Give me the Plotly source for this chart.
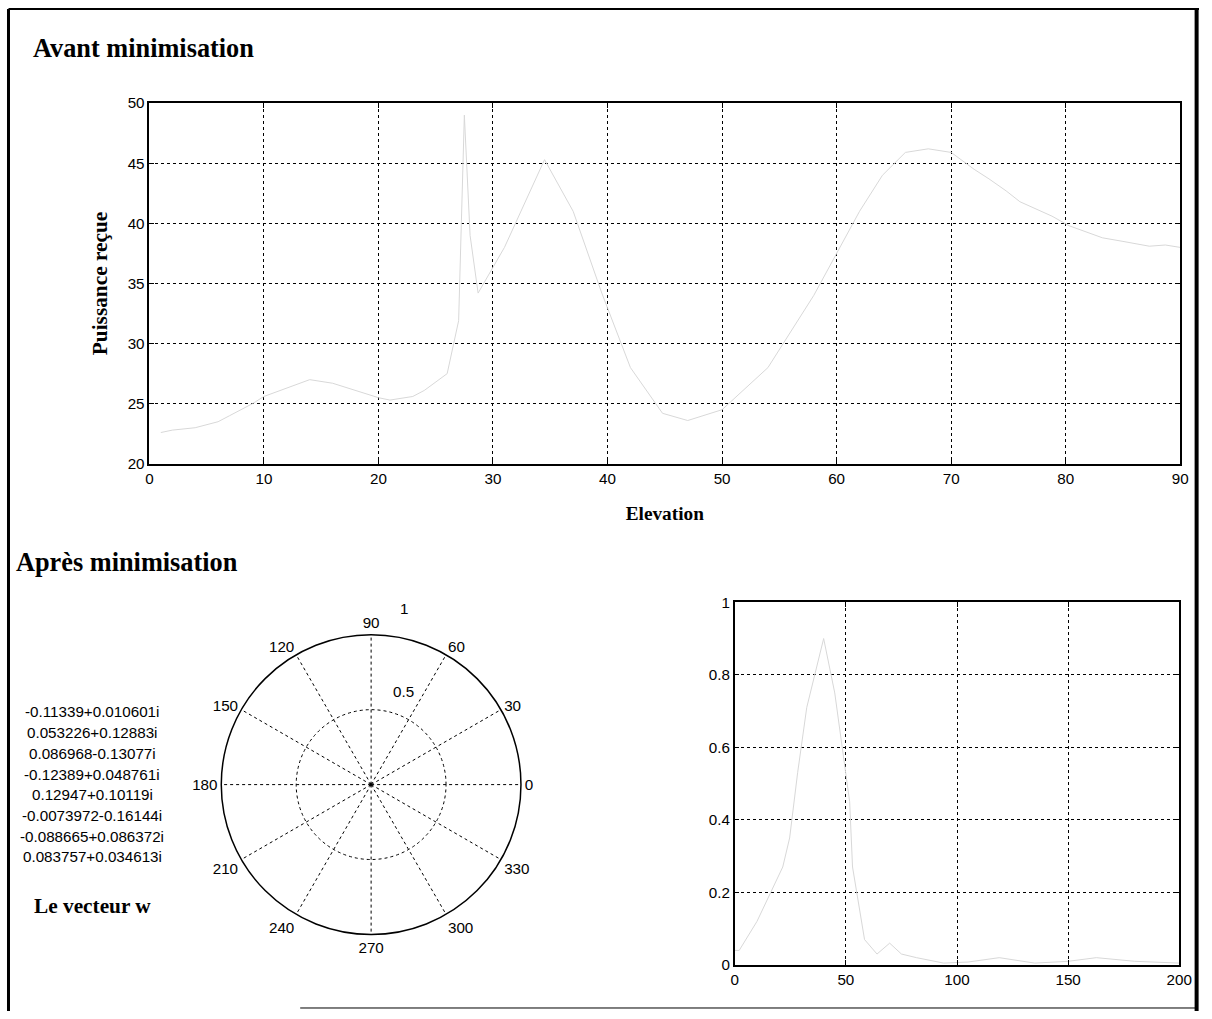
import plotly.graph_objects as go

W, H = 1212, 1019
# page placement of the figure: target pixel t -> figure pixel (t - A) / S
S = 0.987
AX, AY = 3.5, 7.5

# --- Puissance reçue avant minimisation (en fonction de l'élévation) ---
elevation = [1, 2, 4, 6, 7, 9, 10, 12, 14, 16, 18, 20, 21, 23, 24, 26, 27,
             27.5, 28, 28.7, 31, 34.5, 37, 39.5, 42, 44.8, 47, 50, 54, 58,
             62, 64, 66, 68, 70, 72, 73.3, 74.8, 76, 78.8, 80.3, 82, 83.2,
             85, 87.3, 88.7, 90]
puissance = [22.6, 22.8, 23.0, 23.5, 24.0, 25.0, 25.6, 26.3, 27.0, 26.7,
             26.1, 25.5, 25.3, 25.6, 26.1, 27.5, 31.9, 49.0, 39.0, 34.2,
             38.0, 45.3, 41.0, 34.2, 28.0, 24.2, 23.6, 24.5, 28.0, 34.0,
             41.0, 44.0, 45.9, 46.2, 45.9, 44.5, 43.7, 42.7, 41.8, 40.6,
             39.8, 39.2, 38.8, 38.5, 38.1, 38.2, 38.0]
x_ticks_top = [0, 10, 20, 30, 40, 50, 60, 70, 80, 90]
y_ticks_top = [20, 25, 30, 35, 40, 45, 50]

# --- Diagramme après minimisation ---
indice = [0, 2, 10, 21.6, 24.7, 28.3, 32.4, 40, 45, 51.7, 53, 58.4, 64,
          69.7, 75, 81.8, 94, 105, 119, 135, 150, 162.7, 180, 200]
amplitude = [0.04, 0.04, 0.12, 0.27, 0.35, 0.53, 0.71, 0.9, 0.75, 0.45,
             0.27, 0.07, 0.03, 0.06, 0.03, 0.02, 0.005, 0.008, 0.02, 0.005,
             0.01, 0.02, 0.01, 0.005]
x_ticks_br = [0, 50, 100, 150, 200]
y_ticks_br = [0, 0.2, 0.4, 0.6, 0.8, 1]
y_ticktext_br = ["0", "0.2", "0.4", "0.6", "0.8", "1"]

# --- Diagramme polaire ---
angles = list(range(0, 360, 30))
rayons = [0.5, 1]
rayons_text = ["0.5", "1"]

# --- Vecteur de pondération w ---
vecteur_w = [
    "-0.11339+0.010601i",
    "0.053226+0.12883i",
    "0.086968-0.13077i",
    "-0.12389+0.048761i",
    "0.12947+0.10119i",
    "-0.0073972-0.16144i",
    "-0.088665+0.086372i",
    "0.083757+0.034613i",
]


def fs(size):
    return round(size / S, 1)


TICK_FONT = dict(family="Liberation Sans", size=fs(15), color="black")
SERIF_BOLD = "Liberation Serif"
CURVE_COLOR = "#d8d8d8"


def px(x):
    """page column -> paper fraction"""
    return min(max((x - AX) / S / W, 0), 1)


def py(y):
    """page row -> paper fraction"""
    return min(max(1 - (y - AY) / S / H, 0), 1)


def axis_style(**kw):
    d = dict(showline=True, linecolor="black", linewidth=1.5, mirror="ticks",
             ticks="inside", ticklen=5, tickcolor="black",
             showgrid=True, gridcolor="black", gridwidth=1, griddash="dot",
             zeroline=False, tickfont=TICK_FONT)
    d.update(kw)
    return d


fig = go.Figure()

fig.add_trace(go.Scatter(x=elevation, y=puissance, mode="lines",
                         line=dict(color=CURVE_COLOR, width=1),
                         xaxis="x", yaxis="y", showlegend=False))

fig.add_trace(go.Scatter(x=indice, y=amplitude, mode="lines",
                         line=dict(color=CURVE_COLOR, width=1),
                         xaxis="x2", yaxis="y2", showlegend=False))

fig.add_trace(go.Scatterpolar(r=[], theta=[], mode="lines",
                              subplot="polar", showlegend=False))

fig.update_layout(
    width=W, height=H,
    margin=dict(l=0, r=0, t=0, b=0),
    paper_bgcolor="white", plot_bgcolor="white",
    xaxis=axis_style(domain=[px(149), px(1181)], range=[0, 90],
                     tickvals=x_ticks_top, anchor="y",
                     title=dict(text="<b>Elevation</b>", standoff=21,
                                font=dict(family=SERIF_BOLD, size=fs(19),
                                          color="black"))),
    yaxis=axis_style(domain=[py(464), py(102)], range=[20, 50],
                     tickvals=y_ticks_top, anchor="x",
                     title=dict(text="<b>Puissance reçue</b>", standoff=14,
                                font=dict(family=SERIF_BOLD, size=fs(21),
                                          color="black"))),
    xaxis2=axis_style(domain=[px(735), px(1180)], range=[0, 200],
                      tickvals=x_ticks_br, anchor="y2"),
    yaxis2=axis_style(domain=[py(967), py(603)], range=[0, 1],
                      tickvals=y_ticks_br, ticktext=y_ticktext_br,
                      anchor="x2"),
    polar=dict(
        domain=dict(x=[px(221), px(521)], y=[py(938), py(634)]),
        bgcolor="white",
        angularaxis=dict(tickvals=angles, ticktext=[str(a) for a in angles],
                         rotation=0, direction="counterclockwise",
                         showline=True, linecolor="black", linewidth=1.5,
                         ticks="", showgrid=True, gridcolor="black",
                         gridwidth=1, griddash="dot", tickfont=TICK_FONT),
        radialaxis=dict(range=[0, 1], tickvals=rayons,
                        showticklabels=False, angle=80,
                        showline=False, ticks="", showgrid=True,
                        gridcolor="black", gridwidth=1, griddash="dot"),
    ),
)

annotations = [
    dict(text="<b>Avant minimisation</b>", x=px(31), y=py(47),
         xanchor="left", yanchor="middle",
         font=dict(family=SERIF_BOLD, size=fs(26), color="black")),
    dict(text="<b>Après minimisation</b>", x=px(14), y=py(563),
         xanchor="left", yanchor="middle",
         font=dict(family=SERIF_BOLD, size=fs(26), color="black")),
    dict(text="<b>Le vecteur w</b>", x=px(32), y=py(908),
         xanchor="left", yanchor="middle",
         font=dict(family=SERIF_BOLD, size=fs(21), color="black")),
]
for i, val in enumerate(vecteur_w):
    annotations.append(dict(text=val, x=px(92), y=py(713 + i * 20.8),
                            xanchor="center", yanchor="middle",
                            font=dict(family="Liberation Sans", size=fs(15),
                                      color="black")))
# étiquettes radiales du diagramme polaire (près de l'axe à ~80°)
for r, lab, (lx, ly) in zip(rayons, rayons_text, [(403, 693), (404, 609)]):
    annotations.append(dict(text=lab, x=px(lx), y=py(ly),
                            xanchor="center", yanchor="middle",
                            font=TICK_FONT))
for a in annotations:
    a.update(xref="paper", yref="paper", showarrow=False)
fig.update_layout(annotations=annotations)

# cadre de la figure
frame = [
    dict(x0=px(8), x1=px(8), y0=py(5), y1=py(1019), width=3),
    dict(x0=px(8), x1=px(1207), y0=py(6), y1=py(6), width=2),
    dict(x0=0.998, x1=0.998, y0=py(5), y1=py(1019), width=4),
    dict(x0=px(300), x1=0.998, y0=0.003, y1=0.003, width=1),
]
fig.update_layout(shapes=[dict(type="line", xref="paper", yref="paper",
                               x0=f["x0"], x1=f["x1"], y0=f["y0"], y1=f["y1"],
                               line=dict(color="black", width=f["width"]))
                          for f in frame])

fig.write_html("out.html")
